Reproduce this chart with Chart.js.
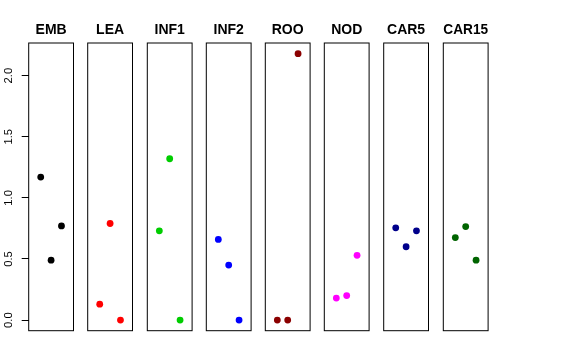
<!DOCTYPE html>
<html>
<head>
<meta charset="utf-8">
<script src="https://cdn.jsdelivr.net/npm/chart.js@4/dist/chart.umd.min.js"></script>
<style>
  body { margin: 0; background: #fff; }
  #wrap { position: relative; width: 576px; height: 360px; }
  #wrap canvas { position: absolute; left: 0; top: 0; }
</style>
</head>
<body>
<div id="wrap"></div>
<script>
// panel names and the three values in each
var groups = ['EMB', 'LEA', 'INF1', 'INF2', 'ROO', 'NOD', 'CAR5', 'CAR15'];
var xPos = [1, 2, 3];
var emb = [1.17, 0.49, 0.77];
var lea = [0.13, 0.79, 0.0];
var inf1 = [0.73, 1.32, 0.0];
var inf2 = [0.66, 0.45, 0.0];
var roo = [0.0, 0.0, 2.18];
var nod = [0.18, 0.20, 0.53];
var car5 = [0.755, 0.60, 0.73];
var car15 = [0.675, 0.765, 0.49];
var yTicks = [0, 0.5, 1, 1.5, 2];

var values = [emb, lea, inf1, inf2, roo, nod, car5, car15];
var colors = ['#000000', '#ff0000', '#00cd00', '#0000ff', '#8b0000', '#ff00ff', '#00008b', '#006400'];

// layout of the strip panels
var panelLeft = [28.7, 87.7, 147.3, 206.3, 265.3, 324.3, 383.7, 443.3];
var panelW = 44.8;
var plotTop = 43, plotBottom = 330.7;
var W = 576, H = 360;

Chart.defaults.font.family = '"Liberation Sans", Arial, sans-serif';

var boxPlugin = {
    id: 'box',
    afterDraw: function (chart) {
        var a = chart.chartArea, ctx = chart.ctx;
        ctx.save();
        ctx.strokeStyle = '#000';
        ctx.lineWidth = 1;
        ctx.strokeRect(a.left, a.top, a.right - a.left, a.bottom - a.top);
        ctx.restore();
    }
};

groups.forEach(function (name, i) {
    var canvas = document.createElement('canvas');
    canvas.width = W;
    canvas.height = H;
    document.getElementById('wrap').appendChild(canvas);

    var first = i === 0;
    var pts = xPos.map(function (x, k) { return {x: x, y: values[i][k]}; });

    new Chart(canvas.getContext('2d'), {
        type: 'scatter',
        data: {
            datasets: [{
                data: pts,
                backgroundColor: colors[i],
                borderWidth: 0,
                pointRadius: 3.4
            }]
        },
        options: {
            responsive: false,
            animation: false,
            devicePixelRatio: 1,
            layout: {
                padding: {
                    left: first ? 0 : panelLeft[i],
                    right: W - panelLeft[i] - panelW,
                    top: 0,
                    bottom: H - plotBottom
                }
            },
            plugins: {
                legend: {display: false},
                tooltip: {enabled: false},
                title: {
                    display: true,
                    text: name,
                    fullSize: false,
                    color: '#000',
                    font: {size: 14, weight: 'bold'},
                    padding: {top: 21.6, bottom: plotTop - 21.6 - 16.8}
                }
            },
            scales: {
                x: {
                    type: 'linear',
                    display: false,
                    min: -0.16,
                    max: 4.16
                },
                y: {
                    type: 'linear',
                    display: first,
                    min: -0.087,
                    max: 2.267,
                    afterBuildTicks: function (s) {
                        s.ticks = yTicks.map(function (v) { return {value: v}; });
                    },
                    afterFit: function (s) {
                        if (first) s.width = panelLeft[0];
                    },
                    border: {display: false},
                    grid: {
                        drawOnChartArea: false,
                        drawTicks: true,
                        tickLength: 7,
                        color: '#000',
                        tickColor: '#000'
                    },
                    ticks: {
                        minRotation: 90,
                        maxRotation: 90,
                        crossAlign: 'center',
                        padding: 5,
                        color: '#000',
                        font: {size: 11.3},
                        callback: function (v) { return Number(v).toFixed(1); }
                    }
                }
            }
        },
        plugins: [boxPlugin]
    });
});
</script>
</body>
</html>
